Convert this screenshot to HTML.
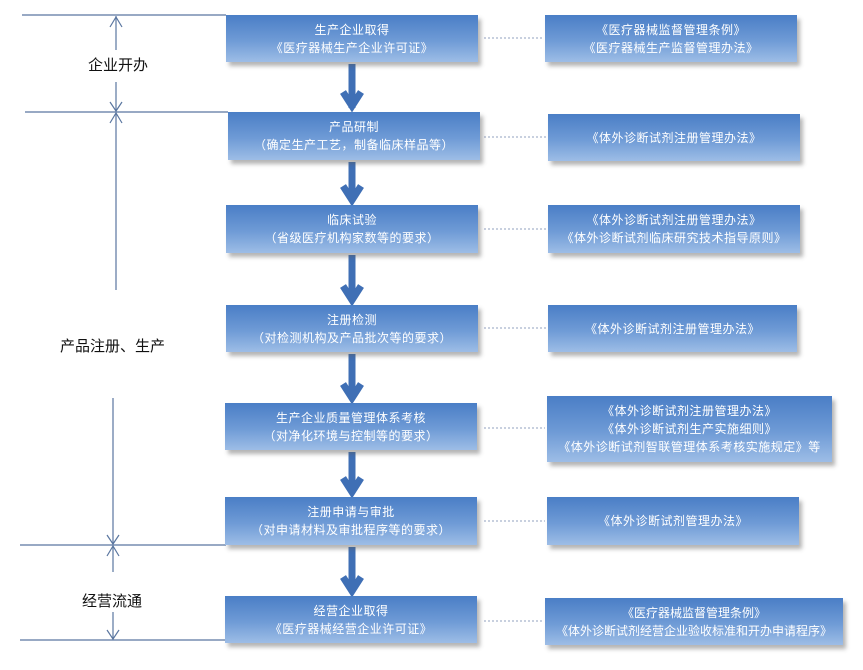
<!DOCTYPE html>
<html><head><meta charset="utf-8"><style>
body{margin:0;width:863px;height:670px;background:#fff;position:relative;overflow:hidden;font-family:"Liberation Sans","Noto Sans CJK SC",sans-serif}
.b{position:absolute;background:linear-gradient(#4a7ec6,#6f9bd6 55%,#9dbde6);color:#fff;font-size:12px;line-height:18px;text-align:center;display:flex;flex-direction:column;justify-content:center;box-shadow:3px 4px 4px rgba(90,90,90,.45);letter-spacing:0.5px}
.t{position:absolute;font-size:15px;color:#111}
svg{position:absolute;left:0;top:0}
</style></head><body>
<svg width="863" height="670">
<g stroke="#5a76a0" stroke-width="1.2" fill="none">
<line x1="22" y1="15" x2="226" y2="15"/>
<line x1="25" y1="112" x2="228" y2="112"/>
<line x1="20" y1="545" x2="226" y2="545"/>
<line x1="20" y1="640" x2="226" y2="640"/>
<line x1="116" y1="16" x2="116" y2="50"/><polyline points="110,27 116,17 122,27"/>
<line x1="116" y1="82" x2="116" y2="111"/><polyline points="110,102 116,111 122,102"/>
<line x1="116" y1="113" x2="116" y2="290"/><polyline points="110,123 116,113 122,123"/>
<line x1="113" y1="398" x2="113" y2="544"/><polyline points="107,535 113,544 119,535"/>
<line x1="113" y1="546" x2="113" y2="572"/><polyline points="107,556 113,546 119,556"/>
<line x1="113" y1="612" x2="113" y2="639"/><polyline points="107,630 113,639 119,630"/>
</g>
<g stroke="#a8b4cc" stroke-width="1.2" stroke-dasharray="2,2">
<line x1="484" y1="38" x2="543" y2="38"/>
<line x1="484" y1="137" x2="546" y2="137"/>
<line x1="484" y1="229" x2="546" y2="229"/>
<line x1="484" y1="328" x2="546" y2="328"/>
<line x1="484" y1="428" x2="545" y2="428"/>
<line x1="484" y1="521" x2="545" y2="521"/>
<line x1="484" y1="621" x2="543" y2="621"/>
</g>
<g stroke="#3f6fb5" stroke-width="7" fill="none" stroke-linejoin="miter">
<line x1="352" y1="64" x2="352" y2="108"/><polyline points="343,92 352,106 361,92"/>
<line x1="352" y1="162" x2="352" y2="201"/><polyline points="343,186 352,200 361,186"/>
<line x1="352" y1="255" x2="352" y2="301"/><polyline points="343,286 352,300 361,286"/>
<line x1="352" y1="354" x2="352" y2="399"/><polyline points="343,384 352,398 361,384"/>
<line x1="352" y1="452" x2="352" y2="493"/><polyline points="343,478 352,492 361,478"/>
<line x1="352" y1="547" x2="352" y2="592"/><polyline points="343,577 352,591 361,577"/>
</g>
</svg>
<div class="t" style="left:88px;top:54px">企业开办</div>
<div class="t" style="left:60px;top:335px">产品注册、生产</div>
<div class="t" style="left:82px;top:590px">经营流通</div>

<div class="b" style="left:226px;top:15px;width:252px;height:47px">生产企业取得<br>《医疗器械生产企业许可证》</div>
<div class="b" style="left:228px;top:112px;width:252px;height:48px">产品研制<br>（确定生产工艺，制备临床样品等）</div>
<div class="b" style="left:226px;top:205px;width:252px;height:48px">临床试验<br>（省级医疗机构家数等的要求）</div>
<div class="b" style="left:226px;top:305px;width:252px;height:47px">注册检测<br>（对检测机构及产品批次等的要求）</div>
<div class="b" style="left:225px;top:403px;width:252px;height:47px">生产企业质量管理体系考核<br>（对净化环境与控制等的要求）</div>
<div class="b" style="left:225px;top:497px;width:252px;height:48px">注册申请与审批<br>（对申请材料及审批程序等的要求）</div>
<div class="b" style="left:225px;top:596px;width:252px;height:47px">经营企业取得<br>《医疗器械经营企业许可证》</div>

<div class="b" style="left:545px;top:15px;width:252px;height:47px">《医疗器械监督管理条例》<br>《医疗器械生产监督管理办法》</div>
<div class="b" style="left:548px;top:114px;width:252px;height:47px">《体外诊断试剂注册管理办法》</div>
<div class="b" style="left:548px;top:205px;width:252px;height:48px">《体外诊断试剂注册管理办法》<br>《体外诊断试剂临床研究技术指导原则》</div>
<div class="b" style="left:548px;top:305px;width:249px;height:47px">《体外诊断试剂注册管理办法》</div>
<div class="b" style="left:547px;top:396px;width:285px;height:66px">《体外诊断试剂注册管理办法》<br>《体外诊断试剂生产实施细则》<br>《体外诊断试剂智联管理体系考核实施规定》等</div>
<div class="b" style="left:547px;top:497px;width:252px;height:48px">《体外诊断试剂管理办法》</div>
<div class="b" style="left:545px;top:598px;width:298px;height:47px;letter-spacing:0">《医疗器械监督管理条例》<br>《体外诊断试剂经营企业验收标准和开办申请程序》</div>
</body></html>
